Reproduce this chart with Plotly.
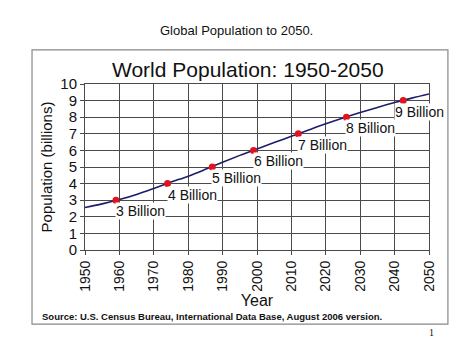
import plotly.graph_objects as go

years = [1950, 1955, 1960, 1965, 1970, 1975, 1980, 1985, 1990, 1995, 2000,
         2005, 2010, 2015, 2020, 2025, 2030, 2035, 2040, 2045, 2050]
population = [2.56, 2.78, 3.04, 3.35, 3.71, 4.09, 4.45, 4.86, 5.29, 5.70, 6.09,
              6.47, 6.85, 7.23, 7.60, 7.95, 8.28, 8.59, 8.88, 9.15, 9.40]

milestone_years = [1959, 1974, 1987, 1999, 2012, 2026, 2042.5]
milestone_values = [3, 4, 5, 6, 7, 8, 9]
milestone_labels = ["3 Billion", "4 Billion", "5 Billion", "6 Billion",
                    "7 Billion", "8 Billion", "9 Billion"]

x_ticks = list(range(1950, 2051, 10))
y_ticks = list(range(0, 11))

FONT = "Liberation Sans, Arial, sans-serif"

fig = go.Figure()
fig.add_trace(go.Scatter(x=years, y=population, mode="lines",
                         line=dict(color="#1c1c6b", width=1.6, shape="spline"),
                         hoverinfo="skip"))
fig.add_trace(go.Scatter(x=milestone_years, y=milestone_values, mode="markers",
                         marker=dict(color="#e0141e", size=7), hoverinfo="skip"))

for i, (xv, yv, lab) in enumerate(zip(milestone_years, milestone_values, milestone_labels)):
    last = i == len(milestone_labels) - 1
    fig.add_annotation(x=xv, y=yv, text=lab, showarrow=False,
                       xanchor="left", yanchor="top",
                       xshift=-9 if last else -1, yshift=-2,
                       bgcolor="white", borderpad=0,
                       font=dict(family=FONT, size=14, color="#111"))

fig.update_xaxes(range=[1950, 2050], tickvals=x_ticks,
                 ticktext=[str(v) for v in x_ticks], tickangle=-90,
                 showgrid=True, gridcolor="#4a4a4a", gridwidth=1,
                 ticks="outside", ticklen=4, tickcolor="#4a4a4a",
                 showline=True, linecolor="#4a4a4a", mirror=True,
                 tickfont=dict(family=FONT, size=14, color="#111"),
                 title=dict(text="Year", font=dict(family=FONT, size=16, color="#111"),
                            standoff=2),
                 zeroline=False, automargin=False)
fig.update_yaxes(range=[0, 10], tickvals=y_ticks,
                 showgrid=True, gridcolor="#4a4a4a", gridwidth=1,
                 ticks="outside", ticklen=4, tickcolor="#4a4a4a",
                 showline=True, linecolor="#4a4a4a", mirror=True,
                 tickfont=dict(family=FONT, size=15, color="#111"),
                 title=dict(text="Population (billions)",
                            font=dict(family=FONT, size=15, color="#111"), standoff=4),
                 zeroline=False, automargin=False)

# outer frame
fig.add_shape(type="rect", xref="paper", yref="paper",
              x0=-0.154, x1=1.055, y0=-0.446, y1=1.205,
              line=dict(color="#888", width=1.2), fillcolor="rgba(0,0,0,0)")

fig.add_annotation(xref="paper", yref="paper", x=0.439, y=1.32,
                   text="Global Population to 2050.", showarrow=False,
                   xanchor="center", yanchor="middle",
                   font=dict(family=FONT, size=13, color="#111"))
fig.add_annotation(xref="paper", yref="paper", x=0.473, y=1.085,
                   text="World Population: 1950-2050", showarrow=False,
                   xanchor="center", yanchor="middle",
                   font=dict(family=FONT, size=21, color="#111"))
fig.add_annotation(xref="paper", yref="paper", x=-0.131, y=-0.398,
                   text="<b>Source: U.S. Census Bureau, International Data Base, August 2006 version.</b>",
                   showarrow=False, xanchor="left", yanchor="middle",
                   font=dict(family=FONT, size=9.5, color="#111"))
fig.add_annotation(xref="paper", yref="paper", x=1.006, y=-0.494,
                   text="1", showarrow=False, xanchor="center", yanchor="middle",
                   font=dict(family="Liberation Serif, Times New Roman, serif", size=10, color="#111"))

# page body adds an 8px margin, so the figure is drawn slightly smaller
fig.update_layout(width=466, height=347,
                  margin=dict(l=77, r=45, t=76, b=105),
                  paper_bgcolor="white", plot_bgcolor="white",
                  showlegend=False)

fig.write_html("out.html")
